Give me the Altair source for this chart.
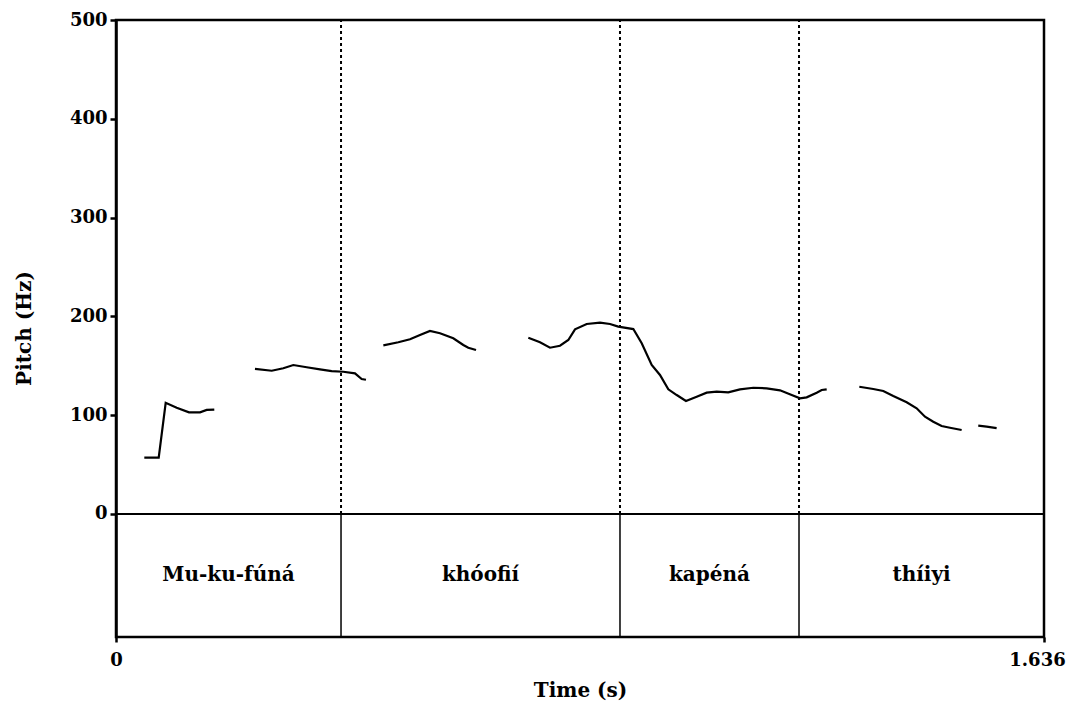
import altair as alt
import pandas as pd

# Pitch contour samples (time in s, pitch in Hz), one list per voiced stretch
seg_id = [1]*8 + [2]*11 + [3]*10 + [4]*31 + [5]*11 + [6]*3
times = [
    0.0499, 0.0753, 0.0876, 0.1070, 0.1287, 0.1481, 0.1599, 0.1733,
    0.2450, 0.2745, 0.2950, 0.3126, 0.3362, 0.3596, 0.3802, 0.4007, 0.4213, 0.4331, 0.4407,
    0.4713, 0.4977, 0.5183, 0.5359, 0.5535, 0.5712, 0.5946, 0.6123, 0.6211, 0.6347,
    0.7269, 0.7475, 0.7651, 0.7827, 0.7974, 0.8092, 0.8298, 0.8533, 0.8709, 0.8855,
    0.9120, 0.9268, 0.9444, 0.9590, 0.9737, 0.9885, 1.0048, 1.0237, 1.0413, 1.0590,
    1.0794, 1.1000, 1.1235, 1.1471, 1.1706, 1.1912, 1.2059, 1.2176, 1.2353, 1.2441,
    1.2529,
    1.3104, 1.3350, 1.3527, 1.3703, 1.3939, 1.4115, 1.4262, 1.4408, 1.4555, 1.4702, 1.4908,
    1.5201, 1.5349, 1.5525,
]
pitch = [
    57.0, 57.0, 112.6, 107.6, 102.9, 102.9, 105.3, 105.6,
    146.8, 145.0, 147.5, 150.8, 148.5, 146.4, 144.7, 144.0, 142.4, 136.6, 135.9,
    170.7, 173.8, 176.8, 181.2, 185.2, 182.9, 177.8, 171.1, 168.3, 166.0,
    178.4, 173.8, 168.3, 170.3, 176.1, 186.9, 192.3, 193.6, 192.3, 189.6,
    187.2, 172.8, 150.8, 140.7, 126.2, 120.4, 114.4, 118.7, 122.8, 123.8,
    123.2, 126.2, 127.8, 127.2, 125.2, 120.4, 117.1, 118.1, 122.8, 125.5,
    126.2,
    128.8, 126.5, 124.5, 119.4, 113.1, 107.0, 98.5, 93.4, 89.1, 87.3, 85.0,
    89.4, 88.4, 87.0,
]

# Word tier
boundaries = [0.3967, 0.8885, 1.2041]
words = ["Mu-ku-fúná", "khóofií", "kapéná", "thíiyi"]
t_start = 0.0
t_end = 1.636
y_ticks = [0, 100, 200, 300, 400, 500]
x_ticks = [0, 1.636]
tier_bottom = -124.5

FONT = "DejaVu Serif"

curve_df = pd.DataFrame({"t": times, "f": pitch, "seg": seg_id})
edges = [t_start] + boundaries + [t_end]
word_df = pd.DataFrame({
    "t": [(edges[i] + edges[i + 1]) / 2 for i in range(len(words))],
    "word": words,
    "y": [tier_bottom / 2] * len(words),
})
bound_df = pd.DataFrame({"t": boundaries, "y0": [0] * 3, "y1": [500] * 3, "yb": [tier_bottom] * 3})
zero_df = pd.DataFrame({"y": [0]})

xscale = alt.Scale(domain=[t_start, t_end], nice=False, zero=False)
yscale = alt.Scale(domain=[tier_bottom, 500], nice=False, zero=False)

xaxis = alt.Axis(
    values=x_ticks, format=".3~f", title="Time (s)", grid=False,
    tickSize=5, tickWidth=2.5, tickColor="black", domain=False,
    labelFont=FONT, labelFontSize=18, labelFontWeight="bold", labelColor="black",
    labelPadding=9, labelFlush=False,
    labelOffset={"expr": "datum.value > 1 ? -7 : 0"},
    titleFont=FONT, titleFontSize=20, titleFontWeight="bold", titleColor="black",
    titleX=464, titleY=59, titleBaseline="alphabetic", titleAlign="center",
)
yaxis = alt.Axis(
    values=y_ticks, title="Pitch (Hz)", grid=False,
    tickSize=6, tickWidth=2.5, tickColor="black",
    domainColor="black", domainWidth=2.5,
    labelFont=FONT, labelFontSize=18, labelFontWeight="bold", labelColor="black",
    labelPadding=3, labelFlush=False,
    titleFont=FONT, titleFontSize=20, titleFontWeight="bold", titleColor="black",
    titleAngle=270, titleX=-86, titleY=308, titleBaseline="alphabetic", titleAlign="center",
)

curve = alt.Chart(curve_df).mark_line(color="black", strokeWidth=2.2).encode(
    x=alt.X("t:Q", scale=xscale, axis=xaxis),
    y=alt.Y("f:Q", scale=yscale, axis=yaxis),
    detail="seg:N",
)

dotted = alt.Chart(bound_df).mark_rule(color="black", strokeWidth=2, strokeDash=[3, 3]).encode(
    x=alt.X("t:Q", scale=xscale),
    y=alt.Y("y0:Q", scale=yscale),
    y2="y1:Q",
)
solid = alt.Chart(bound_df).mark_rule(color="black", strokeWidth=1.5).encode(
    x=alt.X("t:Q", scale=xscale),
    y=alt.Y("yb:Q", scale=yscale),
    y2="y0:Q",
)
zero_line = alt.Chart(zero_df).mark_rule(color="black", strokeWidth=2).encode(
    y=alt.Y("y:Q", scale=yscale),
)
labels = alt.Chart(word_df).mark_text(
    font=FONT, fontSize=20, fontWeight="bold", color="black", baseline="middle", align="center"
).encode(
    x=alt.X("t:Q", scale=xscale),
    y=alt.Y("y:Q", scale=yscale),
    text="word:N",
)

chart = alt.layer(zero_line, dotted, solid, curve, labels).properties(
    width=928, height=617,
    autosize=alt.AutoSizeParams(type="none"),
    padding={"left": 108, "top": 12, "right": 22, "bottom": 65},
    background="white",
).configure_view(stroke="black", strokeWidth=2.5)

chart.save("out.html", embed_options={"renderer": "svg", "actions": False})
